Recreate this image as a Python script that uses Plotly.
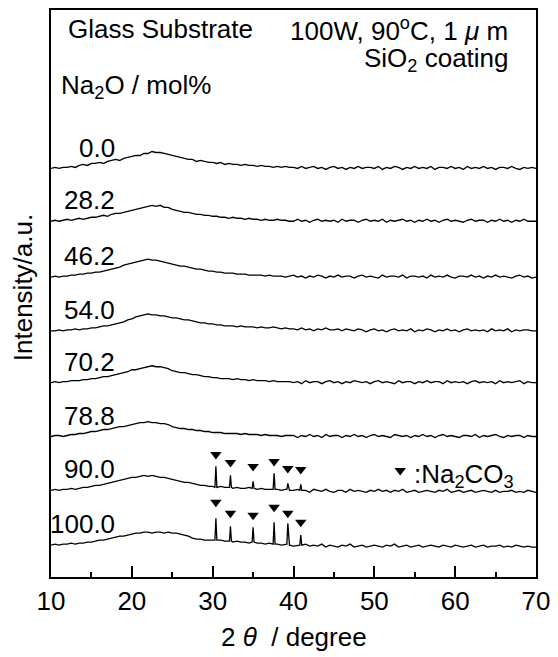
import numpy as np
import plotly.graph_objects as go

# 2-theta grid (degrees)
two_theta = np.round(np.arange(10, 70.001, 0.5), 2)

# Na2O content labels and stacking offsets
labels = ["0.0", "28.2", "46.2", "54.0", "70.2", "78.8", "90.0", "100.0"]
offsets = [410, 357, 301, 247, 195, 141, 87, 32]

# intensities (a.u.), 10.0 .. 70.0 step 0.5
i_00 = [0, 1, 0, 1, 1, 2, 1, 3, 4, 3,
        5, 5, 6, 5, 7, 8, 9, 8, 10, 11,
        12, 13, 13, 15, 15, 17, 16, 16, 15, 14,
        13, 12, 11, 10, 9, 9, 7, 8, 7, 6,
        6, 5, 6, 4, 5, 4, 4, 3, 4, 3,
        3, 2, 3, 2, 2, 1, 2, 1, 2, 1,
        1, 0, 2, 0, 1, 2, 0, 1, -1, 1,
        2, 0, 1, -1, 1, 0, 2, 0, 1, 1,
        0, 2, -1, 1, 0, 2, 1, -1, 1, 0,
        2, 0, 1, 0, 2, -1, 1, 1, 0, 2,
        0, 1, -1, 2, 0, 1, 0, 2, 0, 1,
        -1, 1, 1, 0, 2, 0, -1, 1, 0, 1,
        0]
i_282 = [0, 1, 0, 1, 2, 1, 2, 3, 2, 3,
         4, 4, 5, 6, 5, 7, 8, 8, 9, 10,
         11, 12, 13, 14, 15, 16, 15, 16, 14, 14,
         12, 11, 10, 9, 9, 8, 7, 7, 6, 6,
         5, 5, 4, 4, 3, 4, 3, 3, 2, 3,
         2, 2, 1, 2, 1, 1, 2, 1, 1, 0,
         0, 2, 0, 1, -1, 1, 2, 0, 1, 0,
         1, -1, 2, 0, 1, 1, -1, 1, 2, 0,
         1, 0, 2, -1, 1, 0, 1, 2, 0, 1,
         -1, 1, 0, 2, 0, 1, -1, 1, 2, 0,
         1, 0, -1, 1, 2, 0, 1, 1, -1, 1,
         0, 2, 0, 1, -1, 1, 0, 2, 0, 0,
         0]
i_462 = [0, 1, 0, 1, 1, 2, 2, 3, 3, 4,
         4, 5, 5, 6, 7, 8, 9, 10, 12, 13,
         14, 15, 16, 17, 18, 17, 17, 16, 15, 14,
         13, 12, 11, 11, 10, 9, 8, 8, 7, 6,
         6, 5, 5, 4, 4, 4, 3, 3, 3, 2,
         2, 2, 2, 1, 2, 1, 1, 1, 0, 1,
         2, 0, 1, -1, 1, 0, 2, 1, -1, 1,
         0, 2, 0, 1, 1, -1, 1, 2, 0, 1,
         0, -1, 2, 0, 1, 1, 0, 2, -1, 1,
         1, 0, 1, -1, 2, 0, 1, 0, 2, 0,
         -1, 1, 1, 0, 2, 0, 1, -1, 1, 0,
         2, 0, 1, 0, -1, 1, 2, 0, 1, -1,
         0]
i_540 = [0, 0, 1, 0, 1, 1, 2, 1, 2, 2,
         3, 3, 4, 5, 5, 6, 7, 8, 9, 11,
         12, 14, 15, 16, 17, 16, 16, 15, 15, 14,
         13, 13, 12, 11, 11, 10, 9, 8, 8, 7,
         7, 6, 6, 5, 5, 5, 4, 5, 4, 4,
         4, 3, 4, 3, 3, 4, 3, 2, 3, 2,
         2, 1, 3, 1, 2, 0, 2, 1, 3, 1,
         1, 2, 0, 2, 1, 0, 2, 1, -1, 1,
         2, 0, 1, -1, 1, 2, 0, 1, 0, 2,
         -1, 1, 0, 2, 1, -1, 1, 0, 2, 0,
         1, -1, 1, 2, 0, 1, 0, 1, -1, 2,
         0, 1, 0, 2, -1, 1, 0, 1, 1, 0,
         0]
i_702 = [0, 1, 0, 1, 1, 2, 2, 2, 3, 3,
         4, 4, 5, 6, 6, 7, 8, 9, 10, 11,
         13, 13, 14, 15, 16, 17, 16, 16, 15, 14,
         12, 11, 10, 10, 9, 8, 8, 7, 6, 6,
         5, 5, 4, 4, 4, 3, 4, 3, 3, 2,
         3, 2, 2, 2, 1, 2, 1, 1, 1, 1,
         0, 1, -1, 2, 0, 1, 1, -1, 1, 2,
         0, 1, -1, 1, 0, 2, 1, 0, 1, -1,
         1, 2, 0, 1, 0, -1, 2, 0, 1, 1,
         -1, 1, 0, 2, 0, 1, 1, -1, 2, 0,
         1, 0, 1, -1, 1, 2, 0, 1, 0, 1,
         -1, 2, 0, 1, 0, 1, 2, -1, 1, 0,
         0]
i_788 = [0, 1, 1, 0, 1, 2, 2, 3, 3, 4,
         5, 5, 6, 7, 7, 8, 9, 10, 10, 11,
         12, 13, 14, 14, 15, 14, 14, 13, 13, 12,
         10, 9, 8, 8, 7, 7, 6, 6, 5, 5,
         4, 4, 4, 3, 3, 3, 3, 2, 3, 2,
         2, 2, 1, 2, 1, 1, 1, 0, 1, 1,
         1, -1, 1, 0, 2, 0, 1, -1, 2, 0,
         1, 1, -1, 1, 0, 2, 0, 1, -1, 1,
         2, 0, 1, 0, -1, 2, 1, 0, 1, -1,
         1, 0, 2, 0, 1, -1, 1, 2, 0, 1,
         0, -1, 1, 1, 0, 2, -1, 1, 0, 1,
         2, 0, -1, 1, 0, 1, 1, -1, 1, 0,
         0]
i_900 = [0, 1, 0, 1, 1, 2, 1, 2, 3, 3,
         4, 5, 5, 6, 7, 8, 9, 10, 11, 12,
         13, 13, 14, 15, 14, 15, 14, 13, 13, 12,
         11, 10, 9, 8, 8, 7, 6, 5, 5, 4,
         4, 3, 4, 3, 3, 2, 3, 2, 2, 3,
         2, 1, 2, 1, 1, 2, 1, 0, 1, 0,
         0, 1, -1, 0, -2, 1, 0, -1, 1, -1,
         -2, 0, 0, -2, 1, -1, 0, -1, -2, 0,
         -1, 1, -1, 0, -2, 0, -1, 1, -2, -1,
         0, -2, -1, 0, -1, -2, 0, -1, 1, -2,
         -1, 0, -2, -1, 0, -2, -1, 0, -1, -2,
         0, -2, -1, -1, 0, -2, -1, -2, 0, -1,
         -2]
i_1000 = [0, 1, 0, 1, 1, 2, 1, 2, 2, 3,
          3, 4, 5, 5, 6, 7, 8, 9, 9, 10,
          11, 12, 12, 13, 13, 12, 13, 13, 12, 13,
          12, 12, 11, 10, 9, 7, 6, 6, 5, 5,
          5, 4, 5, 4, 4, 3, 4, 3, 3, 2,
          3, 2, 2, 1, 2, 1, 1, 0, 1, 0,
          -1, 0, -2, 1, -1, 0, -1, 1, -2, 0,
          -1, -2, 0, -1, 1, -2, -1, 0, -2, -1,
          0, -1, -2, 0, -1, 1, -2, -1, 0, -2,
          -1, 0, -2, -1, 0, -1, -2, 0, -1, -2,
          0, -1, -2, -1, 0, -2, -1, 0, -2, -1,
          -1, 0, -2, -1, -2, 0, -1, -2, -1, -2,
          -2]
series = [i_00, i_282, i_462, i_540, i_702, i_788, i_900, i_1000]

# Na2CO3 reflections: position, peak top, local background at the foot, marker height
peak_pos = [30.4, 32.2, 35.0, 37.6, 39.3, 40.9]
peak_90 = [24, 15, 9, 17, 7, 6]
foot_90 = [3, 3, 2, 1, 1, 0]
mark_90 = [36, 28, 24, 29, 22, 21]
peak_100 = [27, 19, 18, 23, 22, 10]
foot_100 = [5, 4, 3, 1, 1, 0]
mark_100 = [43, 32, 30, 38, 32, 23]
peaks = {"90.0": (peak_90, foot_90, mark_90),
         "100.0": (peak_100, foot_100, mark_100)}

FONT = "Liberation Sans, Arial, sans-serif"
HALF = 0.12  # half-width of a reflection foot, degrees

fig = go.Figure()
for lab, off, vals in zip(labels, offsets, series):
    n = min(len(two_theta), len(vals))
    xs = list(two_theta[:n])
    ys = [off + v for v in vals[:n]]
    if lab in peaks:
        ph, ft, mk = peaks[lab]
        pts = [(x, y) for x, y in zip(xs, ys)
               if all(abs(x - p) > 0.2 for p in peak_pos)]
        for p, h, f in zip(peak_pos, ph, ft):
            pts += [(p - HALF, off + f), (p, off + h), (p + HALF, off + f)]
        pts.sort()
        xs = [p[0] for p in pts]
        ys = [p[1] for p in pts]
        fig.add_trace(go.Scatter(
            x=peak_pos, y=[off + m for m in mk], mode="markers",
            marker=dict(symbol="triangle-down", size=10, color="black"),
            showlegend=False, hoverinfo="skip"))
    fig.add_trace(go.Scatter(x=xs, y=ys, mode="lines",
                             line=dict(color="black", width=1.3),
                             showlegend=False, hoverinfo="skip"))
    fig.add_annotation(x=18.2, y=off + 21, text=lab, showarrow=False,
                       xanchor="right", yanchor="middle",
                       font=dict(size=26, family=FONT, color="black"))

# legend marker for Na2CO3
fig.add_trace(go.Scatter(x=[53.2], y=[107], mode="markers",
                         marker=dict(symbol="triangle-down", size=10, color="black"),
                         showlegend=False, hoverinfo="skip"))

def note(x, y, text, anchor):
    fig.add_annotation(x=x, y=y, text=text, showarrow=False,
                       xanchor=anchor, yanchor="middle",
                       font=dict(size=26, family=FONT, color="black"))

note(11.9, 550, "Glass Substrate", "left")
note(11.0, 492, "Na<sub>2</sub>O / mol%", "left")
note(66.8, 549, "100W, 90<sup>o</sup>C, 1 <i>μ</i> m", "right")
note(66.9, 519, "SiO<sub>2</sub> coating", "right")
note(54.6, 102, ":Na<sub>2</sub>CO<sub>3</sub>", "left")

# axis titles
fig.add_annotation(xref="paper", yref="paper", x=0.5, y=-0.105,
                   text="2 <i>θ</i>  / degree", showarrow=False,
                   xanchor="center", yanchor="middle",
                   font=dict(size=26, family=FONT, color="black"))
fig.add_annotation(xref="paper", yref="paper", x=-0.059, y=0.51,
                   text="Intensity/a.u.", showarrow=False, textangle=-90,
                   xanchor="center", yanchor="middle",
                   font=dict(size=26, family=FONT, color="black"))

fig.update_layout(
    width=558, height=657,
    margin=dict(l=51, r=18, t=8, b=80),
    paper_bgcolor="white", plot_bgcolor="white",
    xaxis=dict(range=[10, 70], tick0=10, dtick=10, ticks="inside",
               ticklen=11, tickwidth=1.5, tickcolor="black",
               showline=True, linecolor="black", linewidth=2, mirror=True,
               showgrid=False, zeroline=False,
               tickfont=dict(size=26, family=FONT, color="black"),
               minor=dict(dtick=5, ticks="inside", ticklen=5,
                          tickwidth=1.5, tickcolor="black")),
    yaxis=dict(range=[0, 569], showticklabels=False, ticks="",
               showline=True, linecolor="black", linewidth=2, mirror=True,
               showgrid=False, zeroline=False),
)

fig.write_html("out.html")
